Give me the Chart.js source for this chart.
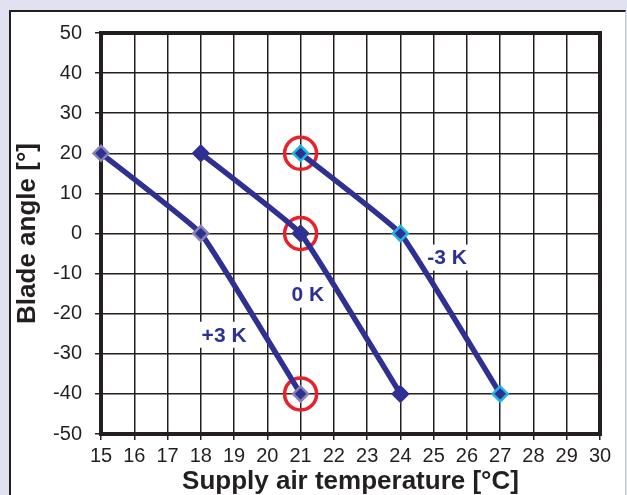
<!DOCTYPE html>
<html>
<head>
<meta charset="utf-8">
<script src="https://cdn.jsdelivr.net/npm/chart.js@4/dist/chart.umd.min.js"></script>
<style>
  html, body { margin: 0; padding: 0; background: #e1e2f1; }
  #wrap { position: relative; width: 627px; height: 495px; overflow: hidden; }
  #panel { position: absolute; left: 9px; top: 10px; width: 614px; height: 500px;
           background: #ffffff; border-left: 2px solid #231f20; border-top: 2px solid #231f20;
           border-right: 1px solid #c8c8c8; }
  #c { position: absolute; left: 0; top: 0; }
</style>
</head>
<body>
<div id="wrap">
  <div id="panel"></div>
  <canvas id="c" width="627" height="495"></canvas>
</div>
<script>
// Series: supply air temperature (°C) -> blade angle (°)
const seriesNames = ['+3 K', '0 K', '-3 K'];
const tempPlus3 = [15, 18, 21];
const anglePlus3 = [20, 0, -40];
const tempZero = [18, 21, 24];
const angleZero = [20, 0, -40];
const tempMinus3 = [21, 24, 27];
const angleMinus3 = [20, 0, -40];

// Highlighted points (red circles)
const markTemp = [21, 21, 21];
const markAngle = [20, 0, -40];

// Series labels placed in data coordinates
const labelText = ['-3 K', '0 K', '+3 K'];
const labelTemp = [25.4, 21.22, 18.7];
const labelAngle = [-6, -15.25, -25.25];

// Axis ranges / ticks
const xMin = 15, xMax = 30, xStep = 1;
const yMin = -50, yMax = 50, yStep = 10;

const toPts = (xs, ys) => xs.map((x, i) => ({ x: x, y: ys[i] }));

const LINE = '#2e3192';
const FONT = "'Liberation Sans', Arial, sans-serif";

const framePlugin = {
  id: 'frame',
  beforeDatasetsDraw(chart) {
    const { ctx, chartArea: a, scales } = chart;
    ctx.save();
    ctx.lineWidth = 4;
    ctx.strokeStyle = '#231f20';
    ctx.strokeRect(a.left, a.top, a.right - a.left, a.bottom - a.top);
    // labels with white boxes
    ctx.font = 'bold 21px ' + FONT;
    ctx.textAlign = 'center';
    ctx.textBaseline = 'middle';
    labelText.forEach((t, i) => {
      const px = scales.x.getPixelForValue(labelTemp[i]);
      const py = scales.y.getPixelForValue(labelAngle[i]);
      const w = ctx.measureText(t).width + 8;
      ctx.fillStyle = '#ffffff';
      ctx.fillRect(px - w / 2, py - 13, w, 26);
      ctx.fillStyle = LINE;
      ctx.fillText(t, px, py + 1);
    });
    ctx.restore();
  }
};

const lineDs = (label, data, borderCol) => ({
  label: label, data: data, showLine: true,
  borderColor: LINE, borderWidth: 5.5, tension: 0.1,
  pointStyle: 'rectRot', pointRadius: 7.5, pointBorderWidth: 2.5,
  pointBackgroundColor: LINE, pointBorderColor: borderCol, clip: false
});

new Chart(document.getElementById('c'), {
  type: 'scatter',
  data: {
    datasets: [
      lineDs(seriesNames[0], toPts(tempPlus3, anglePlus3), '#8a80b8'),
      lineDs(seriesNames[1], toPts(tempZero, angleZero), LINE),
      lineDs(seriesNames[2], toPts(tempMinus3, angleMinus3), '#1fb4e4'),
      { label: 'mark', data: toPts(markTemp, markAngle), showLine: false,
        pointStyle: 'circle', pointRadius: 16, pointBorderWidth: 3.5,
        pointBackgroundColor: 'rgba(0,0,0,0)', pointBorderColor: '#e8212a', clip: false }
    ]
  },
  options: {
    responsive: false,
    animation: false,
    devicePixelRatio: 1,
    layout: { padding: { top: 33, right: 27, left: 0, bottom: 0 } },
    plugins: { legend: { display: false }, tooltip: { enabled: false } },
    scales: {
      x: {
        type: 'linear', min: xMin, max: xMax,
        afterFit(s) { s.height = 61; },
        ticks: { stepSize: xStep, padding: 4, color: '#231f20', font: { family: FONT, size: 20 } },
        grid: { color: '#231f20', lineWidth: 1.5, tickLength: 6, drawTicks: true },
        border: { display: false },
        title: { display: true, text: 'Supply air temperature [°C]', color: '#231f20',
                 font: { family: FONT, size: 26, weight: 'bold', lineHeight: 1 }, padding: { top: 0, bottom: 0 } }
      },
      y: {
        type: 'linear', min: yMin, max: yMax,
        afterFit(s) { s.width = 101; },
        ticks: { stepSize: yStep, padding: 13, color: '#231f20', font: { family: FONT, size: 20 } },
        grid: { color: '#231f20', lineWidth: 1.5, tickLength: 6, drawTicks: true },
        border: { display: false },
        title: { display: true, text: 'Blade angle [°]', color: '#231f20',
                 font: { family: FONT, size: 26, weight: 'bold', lineHeight: 1 }, padding: { top: 15, bottom: 0 } }
      }
    }
  },
  plugins: [framePlugin]
});
</script>
</body>
</html>
